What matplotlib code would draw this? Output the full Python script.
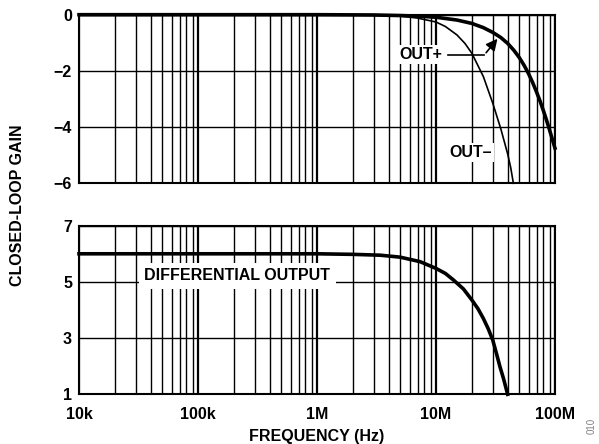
import numpy as np
import matplotlib
matplotlib.use('Agg')
from matplotlib import pyplot as plt
from matplotlib.ticker import LogLocator, NullFormatter, FixedLocator

plt.rcParams['font.family'] = ['Liberation Sans', 'DejaVu Sans']
plt.rcParams['font.weight'] = 'bold'

# OUT+ (thick) and OUT- (thin), top panel
f_pos = [1e4, 1e6, 3e6, 5e6, 7e6, 1e7, 1.5e7, 2e7, 2.5e7, 3e7, 3.5e7, 4e7, 4.5e7, 5e7,
         5.5e7, 6e7, 6.5e7, 7e7, 7.5e7, 8e7, 8.5e7, 9e7, 9.5e7, 1e8]
g_pos = [0, 0, -0.01, -0.03, -0.05, -0.09, -0.19, -0.31, -0.46, -0.63, -0.81, -1.02, -1.26, -1.52,
         -1.8, -2.1, -2.42, -2.75, -3.08, -3.42, -3.76, -4.1, -4.43, -4.75]

f_neg = [1e4, 1e6, 2e6, 3e6, 4e6, 5e6, 7e6, 1e7, 1.2e7, 1.5e7, 1.75e7, 2e7, 2.5e7, 3e7,
         3.5e7, 4e7, 4.25e7, 4.47e7]
g_neg = [0, 0, -0.01, -0.02, -0.03, -0.05, -0.12, -0.26, -0.42, -0.72, -1.02, -1.37, -2.2, -3.15,
         -4.05, -4.95, -5.45, -6.0]

# differential output, bottom panel
f_diff = [1e4, 1e6, 2e6, 3.4e6, 5e6, 7.35e6, 1e7, 1.2e7, 1.4e7, 1.7e7, 2e7, 2.25e7, 2.5e7,
          2.75e7, 3e7, 3.2e7, 3.45e7, 3.7e7, 4e7]
g_diff = [6.0, 6.0, 5.98, 5.95, 5.88, 5.72, 5.48, 5.3, 5.07, 4.75, 4.36, 4.05, 3.7,
          3.33, 2.93, 2.5, 1.98, 1.55, 1.0]

xticks = [1e4, 1e5, 1e6, 1e7, 1e8]
xlabels = ['10k', '100k', '1M', '10M', '100M']

fig = plt.figure(figsize=(5.99, 4.44), dpi=100)
ax1 = fig.add_axes([0.1319, 0.5872, 0.7946, 0.3797])
ax2 = fig.add_axes([0.1319, 0.1119, 0.7946, 0.3798])

def style(ax):
    ax.set_xscale('log')
    ax.set_xlim(1e4, 1e8)
    ax.xaxis.set_major_locator(FixedLocator(xticks))
    ax.xaxis.set_minor_locator(LogLocator(base=10, subs=np.arange(2, 10)))
    ax.xaxis.set_minor_formatter(NullFormatter())
    ax.grid(True, which='major', axis='x', color='black', lw=1.6)
    ax.grid(True, which='minor', axis='x', color='black', lw=1.0)
    ax.grid(True, which='major', axis='y', color='black', lw=1.0)
    ax.tick_params(which='both', length=0, labelsize=11.5)
    ax.tick_params(axis='y', pad=5)
    ax.tick_params(axis='x', pad=9)
    for s in ax.spines.values():
        s.set_linewidth(1.5)
    ax.set_axisbelow(True)

style(ax1)
ax1.set_ylim(-6, 0)
ax1.set_yticks([0, -2, -4, -6])
ax1.set_yticklabels(['0', '\u22122', '\u22124', '\u22126'])
ax1.set_xticklabels([])
ax1.plot(f_neg, g_neg, color='black', lw=1.2, clip_on=False, zorder=3)
ax1.plot(f_pos, g_pos, color='black', lw=2.6, clip_on=False, zorder=3)

ax1.text(7.5e6, -1.41, 'OUT+', fontsize=11.5, fontweight='bold', ha='center', va='center',
         bbox=dict(facecolor='white', edgecolor='none', pad=1.5), zorder=4)
ax1.plot([1.25e7, 2.55e7], [-1.43, -1.43], color='black', lw=1.2, zorder=4)
ax1.annotate('', xy=(3.4e7, -0.78), xytext=(2.55e7, -1.43),
             arrowprops=dict(arrowstyle='-|>', color='black', lw=1.2, mutation_scale=17),
             zorder=4)
ax1.text(1.97e7, -4.9, 'OUT\u2013', fontsize=11.5, fontweight='bold', ha='center', va='center',
         bbox=dict(facecolor='white', edgecolor='none', pad=1.5), zorder=4)

style(ax2)
ax2.set_ylim(1, 7)
ax2.set_yticks([1, 3, 5, 7])
ax2.set_xticklabels(xlabels)
ax2.plot(f_diff, g_diff, color='black', lw=2.6, clip_on=False, zorder=3)
ax2.text(2.13e5, 5.21, 'DIFFERENTIAL OUTPUT', fontsize=11.5, fontweight='bold', ha='center',
         va='center', bbox=dict(facecolor='white', edgecolor='none', pad=4), zorder=4)

fig.text(0.03, 0.538, 'CLOSED-LOOP GAIN', rotation=90, ha='center', va='center',
         fontsize=11.5, fontweight='bold')
fig.text(0.529, 0.017, 'FREQUENCY (Hz)', ha='center', va='center', fontsize=11.5,
         fontweight='bold')
fig.text(0.988, 0.04, '010', rotation=90, ha='center', va='center', fontsize=7,
         color='gray', fontweight='normal')

fig.savefig('out.png', dpi=100)
